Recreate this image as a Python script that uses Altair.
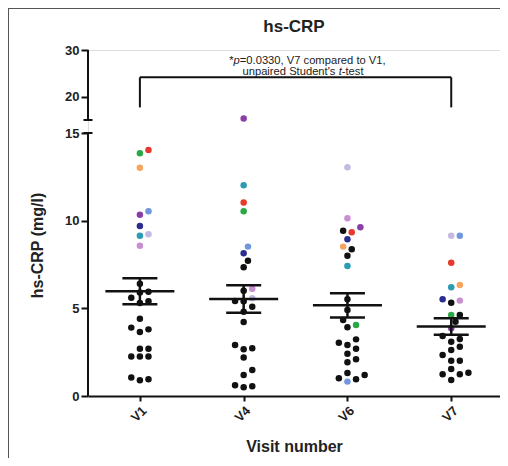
import altair as alt
import pandas as pd
import numpy as np

FONT = "Liberation Sans"

visits = ["V1", "V4", "V6", "V7"]
subjects = ["red", "green", "orange", "cornflower", "purple", "navy",
            "lavender", "teal", "orchid", "other"]
subject_colors = ["#e8392d", "#2aa845", "#f7a55e", "#7096dc", "#8a3fa8", "#2b2e8e",
                  "#c3b9e3", "#2b9cb4", "#c88ed0", "#111111"]

v1_vals = [14.03, 13.84, 13.02, 10.54, 10.34, 9.70, 9.22, 9.14, 8.57,
           6.40, 5.90, 5.95, 5.60, 5.40, 5.30, 4.40, 3.90, 3.80, 3.65,
           2.70, 2.70, 2.25, 2.25, 2.25, 1.05, 0.90, 0.95]
v1_subj = ["red", "green", "orange", "cornflower", "purple", "navy",
           "lavender", "teal", "orchid"] + ["other"] * 18

v4_vals = [15.30, 12.02, 11.03, 10.54, 8.52, 8.14, 6.12, 5.57,
           7.72, 7.34, 6.00, 5.42, 5.40, 5.09, 4.81, 4.22, 2.72, 2.66, 2.91,
           2.19, 1.48, 1.20, 0.61, 0.50, 0.55]
v4_subj = ["purple", "teal", "red", "green", "cornflower", "navy",
           "orchid", "lavender"] + ["other"] * 17

v6_vals = [13.05, 10.14, 9.62, 9.34, 8.94, 8.52, 7.42, 4.05, 0.82,
           9.43, 8.37, 8.00, 5.52, 4.91, 4.34, 3.92, 3.23, 2.91, 3.04,
           2.70, 2.41, 2.09, 1.92, 1.31, 1.20, 0.95, 1.01]
v6_subj = ["lavender", "orchid", "purple", "red", "navy", "orange",
           "teal", "green", "cornflower"] + ["other"] * 18

v7_vals = [9.14, 9.14, 7.60, 6.20, 6.33, 5.44, 5.52, 4.62, 3.86,
           5.32, 4.62, 4.24, 3.42, 3.25, 3.10, 2.81, 2.62, 2.34, 2.01,
           2.01, 1.54, 1.24, 1.24, 1.33, 0.91]
v7_subj = ["lavender", "cornflower", "red", "teal", "orange", "orchid",
           "navy", "green", "purple"] + ["other"] * 16

mean_vals = [5.97, 5.53, 5.17, 3.97]
sem_vals = [0.74, 0.78, 0.69, 0.47]

bracket_top = 24.15
bracket_bottom = 17.7

# ---- layout constants (styles) ----
PAD_L, PAD_T, PAD_R, PAD_B = 80, 42, 0, 62
W, H = 412, 346
X_DOMAIN = [-0.5, 3.47]
Y_DOMAIN = [0, 15, 15.001, 30]
Y_RANGE = [H, 83, 70, 0]
STEP = W / (X_DOMAIN[1] - X_DOMAIN[0])


def ypx(v):
    return float(np.interp(v, Y_DOMAIN, Y_RANGE))


def swarm(vals, diam=7.6, s=4.3):
    order = sorted(range(len(vals)), key=lambda i: vals[i])
    placed = []
    offs = [0.0] * len(vals)
    cands = [0.0]
    for m in range(1, 30):
        cands += [m * s, -m * s]
    for i in order:
        y = ypx(vals[i])
        for c in cands:
            if all((c - px) ** 2 + (y - py) ** 2 >= diam ** 2 for px, py in placed):
                offs[i] = c
                placed.append((c, y))
                break
    return offs


rows = []
for idx, (vals, subj) in enumerate([(v1_vals, v1_subj), (v4_vals, v4_subj),
                                     (v6_vals, v6_subj), (v7_vals, v7_subj)]):
    offs = swarm(vals)
    for v, s_, o in zip(vals, subj, offs):
        rows.append({"visit": visits[idx], "idx": idx, "value": v,
                     "subject": s_, "xpos": idx + o / STEP,
                     "order": 0 if s_ == "other" else 1})
pts = pd.DataFrame(rows)

stats = pd.DataFrame({"idx": range(4), "mean": mean_vals, "sem": sem_vals})

xscale = alt.Scale(domain=X_DOMAIN, nice=False, zero=False)
yscale = alt.Scale(domain=Y_DOMAIN, range=Y_RANGE, nice=False, zero=False)

label_expr = "[" + ",".join("'%s'" % v for v in visits) + "][datum.value]"

x_axis = alt.Axis(values=[0, 1, 2, 3], labelExpr=label_expr, labelAngle=-45,
                  title="Visit number", titleFont=FONT, titleFontSize=16,
                  titleFontWeight="bold", titleColor="#222",
                  titleBaseline="alphabetic", titleY=55,
                  labelFont=FONT, labelFontSize=13, labelFontWeight="bold",
                  labelColor="#222", domainColor="#111", domainWidth=2,
                  tickColor="#111", tickWidth=2, tickSize=5, grid=False,
                  labelPadding=3)
y_axis = alt.Axis(values=[0, 5, 10, 15, 20, 30],
                  title="hs-CRP (mg/l)", titleFont=FONT, titleFontSize=16,
                  titleFontWeight="bold", titleColor="#222",
                  titleBaseline="alphabetic", titleX=-46, titleY=195,
                  titleAngle=-90, titleAlign="center",
                  labelFont=FONT, labelFontSize=13, labelFontWeight="bold",
                  labelColor="#222", domain=False, tickColor="#111",
                  tickWidth=2, tickSize=7, labelPadding=2, grid=False)

points = alt.Chart(pts).mark_circle(size=42, opacity=1).encode(
    x=alt.X("xpos:Q", scale=xscale, axis=x_axis),
    y=alt.Y("value:Q", scale=yscale, axis=y_axis),
    color=alt.Color("subject:N", scale=alt.Scale(domain=subjects, range=subject_colors),
                    legend=None),
    order=alt.Order("order:Q"),
)

base_stats = alt.Chart(stats).transform_calculate(
    lo="datum.mean - datum.sem", hi="datum.mean + datum.sem",
    mx1="datum.idx - 34.5/%f" % STEP, mx2="datum.idx + 34.5/%f" % STEP,
    cx1="datum.idx - 17.5/%f" % STEP, cx2="datum.idx + 17.5/%f" % STEP,
)
mean_line = base_stats.mark_rule(color="#111", strokeWidth=2.5).encode(
    x=alt.X("mx1:Q", scale=xscale), x2="mx2:Q", y=alt.Y("mean:Q", scale=yscale))
cap_hi = base_stats.mark_rule(color="#111", strokeWidth=2.5).encode(
    x=alt.X("cx1:Q", scale=xscale), x2="cx2:Q", y=alt.Y("hi:Q", scale=yscale))
cap_lo = base_stats.mark_rule(color="#111", strokeWidth=2.5).encode(
    x=alt.X("cx1:Q", scale=xscale), x2="cx2:Q", y=alt.Y("lo:Q", scale=yscale))
vbar = base_stats.mark_rule(color="#111", strokeWidth=2.5).encode(
    x=alt.X("idx:Q", scale=xscale), y=alt.Y("lo:Q", scale=yscale), y2="hi:Q")

# broken y axis line
axis_seg = pd.DataFrame({"y1": [Y_DOMAIN[0], Y_DOMAIN[2]], "y2": [Y_DOMAIN[1], Y_DOMAIN[3]]})
axis_line = alt.Chart(axis_seg).mark_rule(color="#111", strokeWidth=2).encode(
    x=alt.value(0), y=alt.Y("y1:Q", scale=yscale), y2="y2:Q")
caps_df = pd.DataFrame({"y": [Y_DOMAIN[1], Y_DOMAIN[2]]})
axis_caps = alt.Chart(caps_df).mark_rule(color="#111", strokeWidth=2).encode(
    x=alt.value(-4.5), x2=alt.value(4.5), y=alt.Y("y:Q", scale=yscale))

# significance bracket
br_h = pd.DataFrame({"x1": [0], "x2": [3], "y": [bracket_top]})
br_v = pd.DataFrame({"x": [0, 3], "y1": [bracket_bottom] * 2, "y2": [bracket_top] * 2})
bracket_h = alt.Chart(br_h).mark_rule(color="#111", strokeWidth=2).encode(
    x=alt.X("x1:Q", scale=xscale), x2="x2:Q", y=alt.Y("y:Q", scale=yscale))
bracket_v = alt.Chart(br_v).mark_rule(color="#111", strokeWidth=2).encode(
    x=alt.X("x:Q", scale=xscale), y=alt.Y("y1:Q", scale=yscale), y2="y2:Q")

# annotation text with italic pieces
ARIAL = {'*': 389, 'p': 556, '=': 584, '0': 556, '.': 278, '3': 556, ',': 278, ' ': 278,
         'V': 667, '7': 556, 'c': 500, 'o': 556, 'm': 833, 'a': 556, 'r': 333, 'e': 556,
         'd': 556, 't': 278, '1': 556, 'u': 556, 'n': 556, 'i': 222, 'S': 667, "'": 191,
         's': 500, '-': 333}
FS = 11.2


def tw(t):
    return sum(ARIAL.get(c, 556) for c in t) * FS / 1000.0


lines = [([("*", False), ("p", True), ("=0.0330, V7 compared to V1,", False)], 219.5, 14.3),
         ([("unpaired Student's ", False), ("t", True), ("-test", False)], 215.0, 25.1)]
trows = []
for pieces, cx, by in lines:
    total = sum(tw(t) for t, _ in pieces)
    x0 = cx - total / 2
    for t, it in pieces:
        trows.append({"text": t, "px": x0, "py": by, "italic": it})
        x0 += tw(t)
tdf = pd.DataFrame(trows)
txt_norm = alt.Chart(tdf[~tdf.italic]).mark_text(
    font=FONT, fontSize=FS, align="left", baseline="alphabetic", color="#222").encode(
    x=alt.X("px:Q", scale=None), y=alt.Y("py:Q", scale=None), text="text:N")
txt_it = alt.Chart(tdf[tdf.italic]).mark_text(
    font=FONT, fontSize=FS, align="left", baseline="alphabetic", color="#222",
    fontStyle="italic").encode(
    x=alt.X("px:Q", scale=None), y=alt.Y("py:Q", scale=None), text="text:N")

title_txt = alt.Chart(pd.DataFrame({"t": ["hs-CRP"]})).mark_text(
    font=FONT, fontSize=17, fontWeight="bold", align="center", baseline="alphabetic",
    color="#222").encode(x=alt.value(W / 2), y=alt.value(-18.5), text="t:N")

# figure frame (top and left edges)
frame_top = alt.Chart(pd.DataFrame({"a": [0]})).mark_rule(color="#555", strokeWidth=1).encode(
    x=alt.value(-PAD_L), x2=alt.value(W + PAD_R), y=alt.value(-PAD_T + 0.5))
frame_left = alt.Chart(pd.DataFrame({"a": [0]})).mark_rule(color="#555", strokeWidth=1).encode(
    x=alt.value(-PAD_L + 0.5), y=alt.value(-PAD_T), y2=alt.value(H + PAD_B))

chart = alt.layer(
    frame_top, frame_left, points, mean_line, cap_hi, cap_lo, vbar, axis_line, axis_caps,
    bracket_h, bracket_v, txt_norm, txt_it, title_txt
).properties(
    width=W, height=H,
    autosize=alt.AutoSizeParams(type="none"),
    padding={"left": PAD_L, "top": PAD_T, "right": PAD_R, "bottom": PAD_B},
).configure_view(stroke=None).configure(background="white")

chart.save("out.html", embed_options={"renderer": "svg", "actions": False})
